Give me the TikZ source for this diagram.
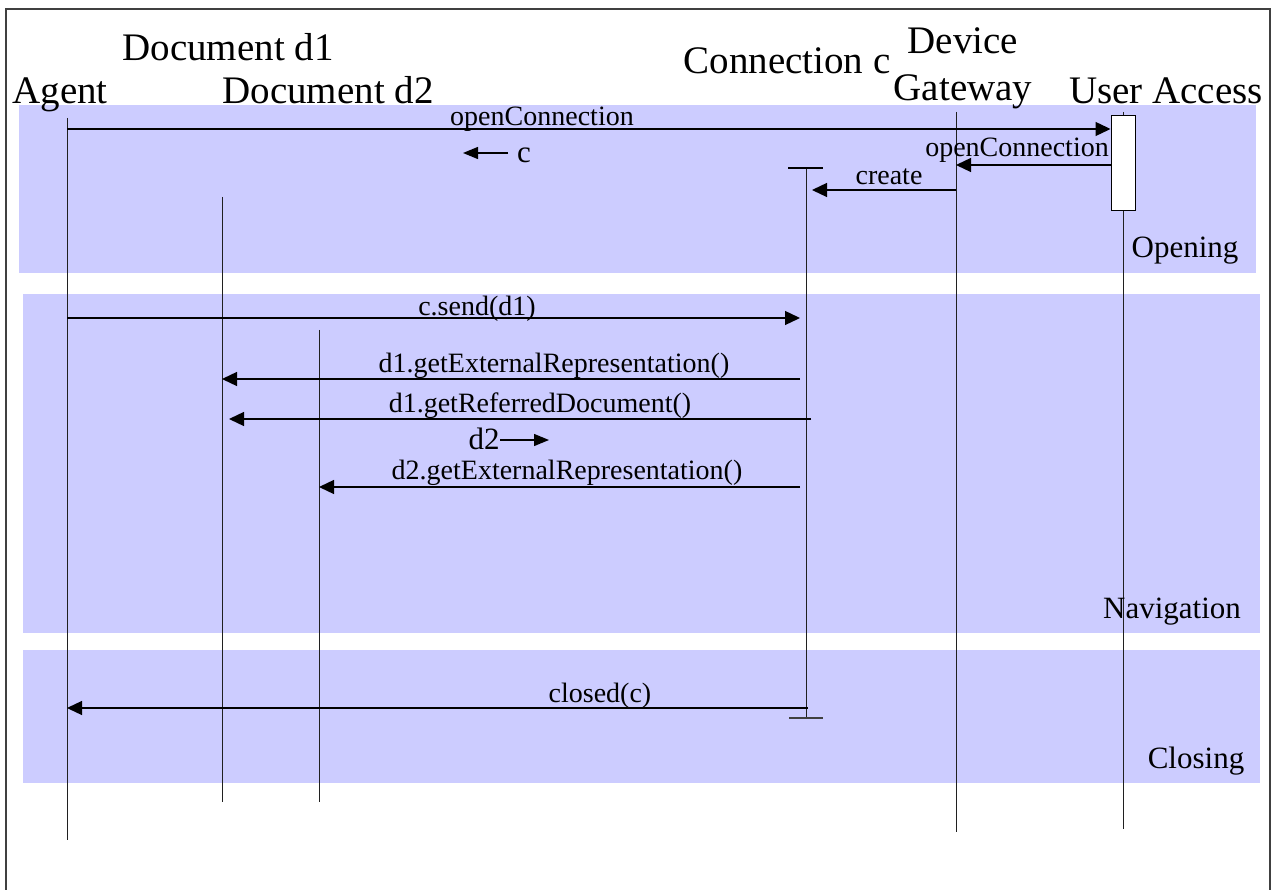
\documentclass[tikz,border=0pt]{standalone}
\usepackage{fontspec}
\setmainfont{Liberation Serif}
\usetikzlibrary{arrows.meta}
\definecolor{band}{HTML}{CCCCFF}
\definecolor{framegray}{HTML}{404040}
\definecolor{linegray}{HTML}{202020}

\begin{document}
\begin{tikzpicture}[x=1pt,y=-1pt,
  head/.style={font=\fontsize{39}{39}\selectfont, inner sep=0pt, anchor=base},
  msglabel/.style={font=\fontsize{28}{28}\selectfont, inner sep=0pt, anchor=base},
  bandlabel/.style={font=\fontsize{31}{31}\selectfont, inner sep=0pt, anchor=base},
  hintlabel/.style={font=\fontsize{31}{31}\selectfont, inner sep=0pt, anchor=base},
  lifeline/.style={draw=linegray, line width=1pt},
  msg/.style={draw=black, line width=1.3pt, -{Triangle[length=15pt,width=14pt]}},
  hint/.style={draw=black, line width=1.3pt, -{Triangle[length=15pt,width=12pt]}},
  bar/.style={draw=black, line width=1.3pt},
  activation/.style={draw=black, line width=1pt, fill=white, inner sep=0pt,
                     minimum width=24pt, minimum height=95pt}]

\useasboundingbox (0,0) rectangle (1271,890);

% outer frame
\draw[framegray, line width=1.5pt] (6,9) rectangle (1270,900);

% phase bands
\fill[band] (19,105) rectangle (1256,273);
\fill[band] (23,294) rectangle (1260,633);
\fill[band] (23,650) rectangle (1260,783);

% participants
\node[head] (hAgent) at (60,104) {Agent};
\node[head] (hDocA) at (228,61) {Document d1};
\node[head] (hDocB) at (328,104) {Document d2};
\node[head] (hConn) at (787,74) {Connection c};
\node[head] (hDev) at (963,54) {Device};
\node[head] (hGate) at (963,101) {Gateway};
\node[head] (hUser) at (1166,104) {User Access};

% lifelines
\coordinate (agentT) at (67,118);   \coordinate (agentB) at (67,840);
\coordinate (docaT) at (222,197);   \coordinate (docaB) at (222,802);
\coordinate (docbT) at (319,330);   \coordinate (docbB) at (319,802);
\coordinate (connT) at (806,168);   \coordinate (connB) at (806,718);
\coordinate (gateT) at (956,112);   \coordinate (gateB) at (956,832);
\coordinate (userT) at (1123,112);  \coordinate (userB) at (1123,829);

\draw[lifeline] (agentT) -- (agentB);
\draw[lifeline] (docaT) -- (docaB);
\draw[lifeline] (docbT) -- (docbB);
\draw[lifeline] (connT) -- (connB);
\draw[lifeline] (gateT) -- (gateB);
\draw[lifeline] (userT) -- (userB);

% creation and destruction bars of the connection
\coordinate (connTL) at (788,168); \coordinate (connTR) at (823,168);
\coordinate (connBL) at (789,718); \coordinate (connBR) at (823,718);
\draw[bar] (connTL) -- (connTR);
\draw[bar, draw=framegray] (connBL) -- (connBR);

% activation of the user access
\node[activation] (uabox) at (1123,163.5) {};

% message rows
\coordinate (r1) at (0,129);
\coordinate (r2) at (0,165);
\coordinate (r3) at (0,190);
\coordinate (r4) at (0,318);
\coordinate (r5) at (0,379);
\coordinate (r6) at (0,419);
\coordinate (r7) at (0,487);
\coordinate (r8) at (0,708);

% Opening
\draw[msg] (agentT |- r1) -- (uabox.west |- r1);
\node[msglabel] (m1) at (542,126) {openConnection};
\draw[msg] (uabox.west |- r2) -- (gateT |- r2);
\node[msglabel] (m2) at (1017,157) {openConnection};
\coordinate (createTip) at (812,190);
\draw[msg] (gateT |- r3) -- (createTip);
\node[msglabel] (m3) at (889,185) {create};

\coordinate (cFrom) at (508,153);
\coordinate (cTo) at (463,153);
\draw[hint] (cFrom) -- (cTo);
\node[hintlabel] (cRet) at (524,163) {c};

% Navigation
\coordinate (sendTip) at (800,318);
\draw[msg] (agentT |- r4) -- (sendTip);
\node[msglabel] (m4) at (477,316) {c.send(d1)};

\coordinate (ext1From) at (800,379);
\draw[msg] (ext1From) -- (docaT |- r5);
\node[msglabel] (m5) at (554,372) {d1.getExternalRepresentation()};

\coordinate (refFrom) at (811,419);
\coordinate (refTip) at (229,419);
\draw[msg] (refFrom) -- (refTip);
\node[msglabel] (m6) at (540,412) {d1.getReferredDocument()};

\node[hintlabel] (d2Ret) at (484,449) {d2};
\coordinate (dFrom) at (500,440);
\coordinate (dTo) at (549,440);
\draw[hint] (dFrom) -- (dTo);

\coordinate (ext2From) at (800,487);
\draw[msg] (ext2From) -- (docbT |- r7);
\node[msglabel] (m7) at (567,479) {d2.getExternalRepresentation()};

% Closing
\coordinate (closeFrom) at (808,708);
\draw[msg] (closeFrom) -- (agentT |- r8);
\node[msglabel] (m8) at (600,702) {closed(c)};

% phase names
\node[bandlabel] (pOpen) at (1185,258) {Opening};
\node[bandlabel] (pNav) at (1172,618) {Navigation};
\node[bandlabel] (pClose) at (1196,768) {Closing};

\end{tikzpicture}
\end{document}
